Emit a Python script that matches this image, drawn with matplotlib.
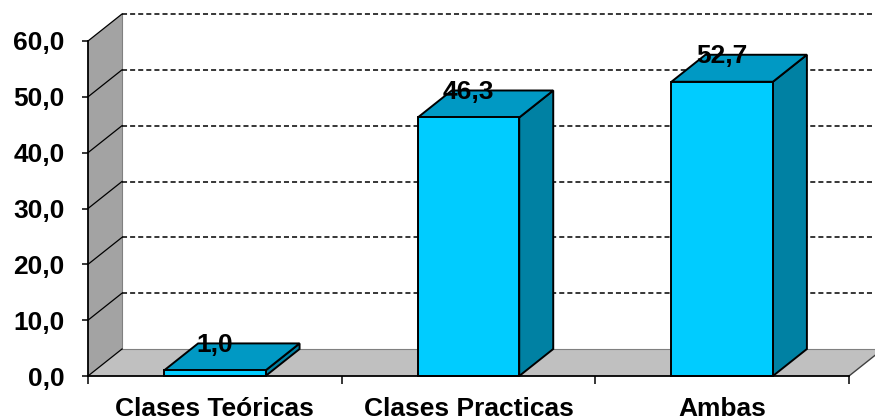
import matplotlib
matplotlib.use("Agg")
import matplotlib.pyplot as plt
from matplotlib.patches import Polygon

categories = ["Clases Teóricas", "Clases Practicas", "Ambas"]
values = [1.0, 46.3, 52.7]
yticks = [0, 10, 20, 30, 40, 50, 60]
ytick_labels = ["0,0", "10,0", "20,0", "30,0", "40,0", "50,0", "60,0"]
value_labels = ["1,0", "46,3", "52,7"]

FRONT = "#00CCFF"
TOP = "#0099C4"
SIDE = "#0081A3"
WALL = "#A3A3A3"
FLOOR = "#C0C0C0"

plt.rcParams["font.family"] = ["Liberation Sans", "DejaVu Sans"]
plt.rcParams["font.weight"] = "bold"

fig = plt.figure(figsize=(8.75, 4.2), dpi=100)
ax = fig.add_axes([88/875, 44/420, 761/875, 335/420])
ax.set_xlim(-0.5, 2.5)
ax.set_ylim(0, 60)

# depth offset (data units)
DX = 34 / (761/3)
DY = 27 / (335/60)
BW = 0.40
x0, x1 = -0.5, 2.5
ymax = 60

# left wall
ax.add_patch(Polygon([(x0, 0), (x0, ymax), (x0+DX, ymax+DY), (x0+DX, DY)],
                     closed=True, facecolor=WALL, edgecolor="none", clip_on=False, zorder=1))
# floor
ax.add_patch(Polygon([(x0, 0), (x1, 0), (x1+DX, DY), (x0+DX, DY)],
                     closed=True, facecolor=FLOOR, edgecolor="none", clip_on=False, zorder=1))
# wall/floor edges
ax.plot([x0+DX, x0+DX], [DY, ymax+DY], color="#808080", lw=0.8, clip_on=False, zorder=1.5)
ax.plot([x0+DX, x1+DX], [DY, DY], color="#808080", lw=0.8, clip_on=False, zorder=1.5)
ax.plot([x1, x1+DX], [0, DY], color="#404040", lw=1.0, clip_on=False, zorder=1.5)

# gridlines
for t in yticks:
    ax.plot([x0, x0+DX], [t, t+DY], color="black", lw=0.9, clip_on=False, zorder=2)
    if t > 0:
        ax.plot([x0+DX, x1+DX+0.1], [t+DY, t+DY], color="black", lw=1.1,
                dashes=(3.3, 2.0), clip_on=False, zorder=2)

# bars
for i, v in enumerate(values):
    a, b = i - BW/2, i + BW/2
    ax.add_patch(Polygon([(b, 0), (b+DX, DY), (b+DX, v+DY), (b, v)], closed=True,
                         facecolor=SIDE, edgecolor="black", lw=1.4, clip_on=False, zorder=3,
                         joinstyle="miter"))
    ax.add_patch(Polygon([(a, v), (b, v), (b+DX, v+DY), (a+DX, v+DY)], closed=True,
                         facecolor=TOP, edgecolor="black", lw=1.4, clip_on=False, zorder=3,
                         joinstyle="miter"))
    ax.add_patch(Polygon([(a, 0), (b, 0), (b, v), (a, v)], closed=True,
                         facecolor=FRONT, edgecolor="black", lw=1.4, clip_on=False, zorder=3,
                         joinstyle="miter"))
    ax.text(i, v + DY - 0.3, value_labels[i], ha="center", va="center",
            fontsize=19, fontweight="bold", zorder=5)

for s in ["top", "right"]:
    ax.spines[s].set_visible(False)
ax.spines["left"].set_linewidth(1.3)
ax.spines["bottom"].set_linewidth(1.3)
ax.spines["left"].set_zorder(4)
ax.spines["bottom"].set_zorder(4)
ax.set_facecolor("none")

ax.set_yticks(yticks)
ax.set_yticklabels(ytick_labels, fontsize=19, fontweight="bold")
ax.tick_params(axis="y", length=4, width=1.1, pad=13)

ax.set_xticks(range(len(categories)))
ax.set_xticklabels(categories, fontsize=19, fontweight="bold")
ax.set_xticks([-0.5, 0.5, 1.5, 2.5], minor=True)
ax.tick_params(axis="x", which="major", length=0, pad=15)
ax.tick_params(axis="x", which="minor", length=6, width=1.1)

fig.savefig("out.png", dpi=100)
